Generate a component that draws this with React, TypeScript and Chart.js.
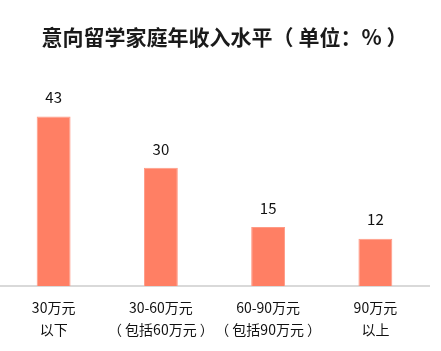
import React, { useEffect, useRef } from "react";
import { Chart, registerables } from "chart.js";

Chart.register(...registerables);

const TITLE = "意向留学家庭年收入水平（ 单位：% ）";
const categories: string[][] = [
  ["30万元", "以下"],
  ["30-60万元", "（ 包括60万元 ）"],
  ["60-90万元", "（ 包括90万元 ）"],
  ["90万元", "以上"],
];
const values: number[] = [43, 30, 15, 12];

const FONT = "'Noto Sans CJK SC', 'Noto Sans', sans-serif";

const valueLabels = {
  id: "valueLabels",
  afterDatasetsDraw(chart: any) {
    const ctx = chart.ctx;
    const meta = chart.getDatasetMeta(0);
    ctx.save();
    ctx.font = `15px ${FONT}`;
    ctx.fillStyle = "#111111";
    ctx.textAlign = "center";
    ctx.textBaseline = "middle";
    meta.data.forEach((el: any, i: number) => {
      ctx.fillText(String(values[i]), el.x, el.y - 19);
    });
    ctx.restore();
  },
};

const titlePlugin = {
  id: "customTitle",
  afterDraw(chart: any) {
    const ctx = chart.ctx;
    ctx.save();
    ctx.font = `bold 21px ${FONT}`;
    ctx.fillStyle = "#1a1a1a";
    ctx.textAlign = "left";
    ctx.textBaseline = "middle";
    const m = ctx.measureText(TITLE);
    const left = -m.actualBoundingBoxLeft;
    const right = m.actualBoundingBoxRight;
    const visCenter = (left + right) / 2;
    ctx.fillText(TITLE, 218 - visCenter, 37);
    ctx.restore();
  },
};

export default function App() {
  const ref = useRef<HTMLCanvasElement | null>(null);
  useEffect(() => {
    if (!ref.current) return;
    const chart = new Chart(ref.current, {
      type: "bar",
      data: {
        labels: categories,
        datasets: [
          {
            data: values,
            backgroundColor: "#FF7F64",
            borderColor: "#FF9A85",
            borderWidth: 1,
            barPercentage: 0.316,
            categoryPercentage: 1,
          },
        ],
      },
      options: {
        animation: false,
        responsive: true,
        maintainAspectRatio: false,
        layout: { padding: { left: -2, right: 12, top: 89, bottom: -1 } },
        plugins: {
          legend: { display: false },
          tooltip: { enabled: false },
          title: { display: false },
        },
        scales: {
          x: {
            grid: { display: false, drawTicks: false },
            border: { display: true, color: "#d9d9d9", width: 2 },
            ticks: {
              color: "#111111",
              padding: 11,
              maxRotation: 0,
              autoSkip: false,
              font: { family: FONT, size: 14, lineHeight: 1.57 },
            },
          },
          y: {
            display: false,
            min: 0,
            max: 50,
          },
        },
      },
      plugins: [valueLabels, titlePlugin],
    });
    return () => chart.destroy();
  }, []);
  return (
    <div style={{ position: "absolute", left: 0, top: 0, width: 441, height: 351, background: "#fff" }}>
      <canvas ref={ref} />
    </div>
  );
}
